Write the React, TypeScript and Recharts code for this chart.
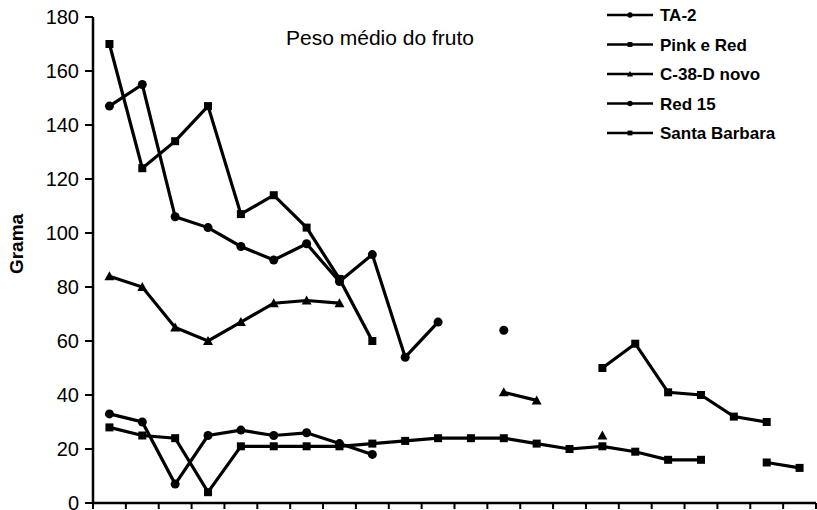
import { Customized, Line, LineChart, XAxis, YAxis } from "recharts";

// amostras (22 colheitas), sem rótulo visível no eixo x
const amostras = [1, 2, 3, 4, 5, 6, 7, 8, 9, 10, 11, 12, 13, 14, 15, 16, 17, 18, 19, 20, 21, 22];

const ta2 = [147, 155, 106, 102, 95, 90, 96, 82, 92, 54, 67, null, 64, null, null, null, null, null, null, null, null, null];
const pinkRed = [170, 124, 134, 147, 107, 114, 102, 83, 60, null, null, null, null, null, null, 50, 59, 41, 40, 32, 30, null];
const c38d = [84, 80, 65, 60, 67, 74, 75, 74, null, null, null, null, 41, 38, null, 25, null, null, null, null, null, null];
const red15 = [33, 30, 7, 25, 27, 25, 26, 22, 18, null, null, null, null, null, null, null, null, null, null, null, null, null];
const santaBarbara = [28, 25, 24, 4, 21, 21, 21, 21, 22, 23, 24, 24, 24, 22, 20, 21, 19, 16, 16, null, 15, 13];

const yTicks = [0, 20, 40, 60, 80, 100, 120, 140, 160, 180];

const FONT = "'Liberation Sans', Arial, sans-serif";

type Shape = "circle" | "square" | "triangle";

const series: { key: string; name: string; shape: Shape }[] = [
  { key: "ta2", name: "TA-2", shape: "circle" },
  { key: "pinkRed", name: "Pink e Red", shape: "square" },
  { key: "c38d", name: "C-38-D novo", shape: "triangle" },
  { key: "red15", name: "Red 15", shape: "circle" },
  { key: "santaBarbara", name: "Santa Barbara", shape: "square" },
];

const data = amostras.map((a, i) => ({
  x: a,
  ta2: ta2[i],
  pinkRed: pinkRed[i],
  c38d: c38d[i],
  red15: red15[i],
  santaBarbara: santaBarbara[i],
}));

const xTicks = amostras.map((a) => a - 0.5).concat([amostras.length + 0.5]);

function marker(shape: Shape, cx: number, cy: number, k: string | number, s = 1) {
  if (shape === "square") {
    return <rect key={k} x={cx - 4 * s} y={cy - 4 * s} width={8 * s} height={8 * s} fill="#000" />;
  }
  if (shape === "triangle") {
    return (
      <path
        key={k}
        d={`M${cx},${cy - 5 * s} L${cx + 5 * s},${cy + 4 * s} L${cx - 5 * s},${cy + 4 * s} Z`}
        fill="#000"
      />
    );
  }
  return <circle key={k} cx={cx} cy={cy} r={4.5 * s} fill="#000" />;
}

function makeDot(shape: Shape) {
  return (props: any) => {
    const { cx, cy, index, value } = props;
    if (cx == null || cy == null || value == null) return <g key={`n-${index}`} />;
    return marker(shape, cx, cy, `d-${index}`);
  };
}

function LegendBox() {
  const rows = [15, 44.5, 74, 103.5, 133];
  return (
    <g transform="translate(600,0)">
      {series.map((s, i) => (
        <g key={s.key}>
          <line x1={7} x2={53} y1={rows[i]} y2={rows[i]} stroke="#000" strokeWidth={2.5} />
          {marker(s.shape, 30, rows[i], "m", 0.6)}
          <text x={60} y={rows[i] + 6} fontFamily={FONT} fontSize={17} fontWeight="bold" fill="#000">
            {s.name}
          </text>
        </g>
      ))}
    </g>
  );
}

function GramaLabel() {
  return (
    <text
      x={23}
      y={244}
      transform="rotate(-90 23 244)"
      textAnchor="middle"
      fontFamily={FONT}
      fontSize={19}
      fontWeight="bold"
      fill="#000"
    >
      Grama
    </text>
  );
}

export default function App() {
  return (
    <div style={{ position: "absolute", left: 0, top: 0, background: "#fff" }}>
      <LineChart width={817} height={510} data={data} margin={{ top: 17, right: 1, bottom: 0, left: 0 }}>
        <XAxis
          dataKey="x"
          type="number"
          domain={[0.5, 22.5]}
          ticks={xTicks}
          interval={0}
          tickFormatter={() => ""}
          height={7}
          tickSize={6}
          axisLine={{ stroke: "#000", strokeWidth: 2.5 }}
          tickLine={{ stroke: "#000", strokeWidth: 2 }}
        />
        <YAxis
          domain={[0, 180]}
          ticks={yTicks}
          interval={0}
          width={93}
          tickSize={8}
          tickMargin={6}
          axisLine={{ stroke: "#000", strokeWidth: 2.5 }}
          tickLine={{ stroke: "#000", strokeWidth: 2 }}
          tick={{ fill: "#000", fontSize: 20, fontFamily: FONT }}
          label={<GramaLabel />}
        />
        <Customized component={() => <LegendBox />} />
        <Customized
          component={() => (
            <text x={380} y={45} textAnchor="middle" fontFamily={FONT} fontSize={21} fill="#000">
              Peso médio do fruto
            </text>
          )}
        />
        {series.map((s) => (
          <Line
            key={s.key}
            dataKey={s.key}
            name={s.name}
            stroke="#000"
            strokeWidth={3.2}
            dot={makeDot(s.shape)}
            activeDot={false}
            connectNulls={false}
            isAnimationActive={false}
          />
        ))}
      </LineChart>
    </div>
  );
}
